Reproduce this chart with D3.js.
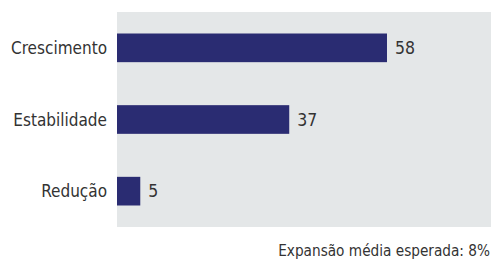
<!DOCTYPE html>
<html><head><meta charset="utf-8">
<script src="https://cdn.jsdelivr.net/npm/d3@7"></script>
<style>
html,body{margin:0;padding:0;background:#fff;}
text{font-family:"DejaVu Sans Condensed","Liberation Sans Narrow",sans-serif;fill:#333;}
</style></head><body>
<script>
const categories = ["Crescimento", "Estabilidade", "Redução"];
const values = [58, 37, 5];
const footnote = "Expansão média esperada: 8%";

const W = 493, H = 260;
const svg = d3.select("body").append("svg").attr("width", W).attr("height", H);

const x = d3.scaleLinear().domain([0, 80]).range([117, 489.4]);
const y = d3.scaleBand().domain(categories).range([12, 227]).paddingInner(0.6).paddingOuter(0.3);

svg.append("rect").attr("x", 117).attr("y", 12).attr("width", 374).attr("height", 215).attr("fill", "#e4e7e8");

svg.selectAll("rect.bar").data(values).join("rect").attr("class", "bar")
  .attr("x", x(0)).attr("y", (d, i) => y(categories[i]))
  .attr("width", d => x(d) - x(0)).attr("height", y.bandwidth())
  .attr("fill", "#2a2c72");

svg.selectAll("text.val").data(values).join("text").attr("class", "val")
  .attr("x", d => x(d) + 8).attr("y", (d, i) => y(categories[i]) + y.bandwidth() / 2)
  .attr("dy", "0.36em").attr("font-size", 17.5).text(d => d);

svg.selectAll("text.cat").data(categories).join("text").attr("class", "cat")
  .attr("x", 107).attr("y", d => y(d) + y.bandwidth() / 2)
  .attr("dy", "0.36em").attr("text-anchor", "end").attr("font-size", 17).text(d => d);

svg.append("text").attr("x", 490).attr("y", 256).attr("text-anchor", "end")
  .attr("font-size", 15.2).text(footnote);
</script>
</body></html>
